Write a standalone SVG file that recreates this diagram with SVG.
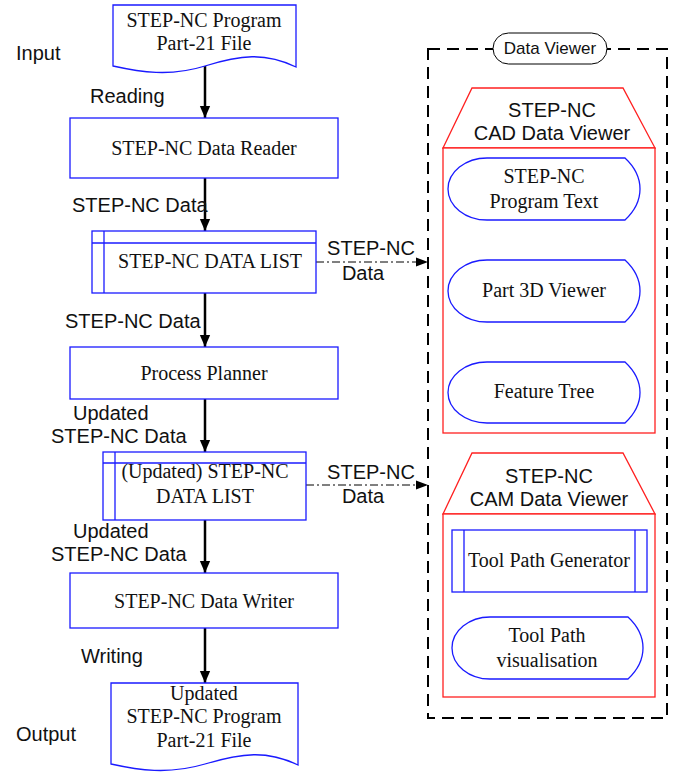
<svg xmlns="http://www.w3.org/2000/svg" width="678" height="773" viewBox="0 0 678 773">
<defs>
<marker id="ah" markerWidth="12" markerHeight="16" refX="14" refY="6" orient="auto" markerUnits="userSpaceOnUse" viewBox="0 0 14 12"><path d="M0,0 L14,6 L0,12 Z" fill="#000"/></marker>
<marker id="ah2" markerWidth="12" markerHeight="10" refX="12" refY="4.5" orient="auto" markerUnits="userSpaceOnUse" viewBox="0 0 12 9"><path d="M0,0 L12,4.5 L0,9 Z" fill="#000"/></marker>
</defs>
<style>
.b{fill:#fff;stroke:#1a1aff;stroke-width:1.3}
.r{fill:#fff;stroke:#ff2020;stroke-width:1.3}
.s{font-family:"Liberation Serif",serif;font-size:20px;fill:#111;text-anchor:middle}
.a{font-family:"Liberation Sans",sans-serif;font-size:20px;fill:#111}
.m{text-anchor:middle}
.arr{stroke:#000;stroke-width:2.5;fill:none;marker-end:url(#ah)}
.dd{stroke:#000;stroke-width:1;fill:none;stroke-dasharray:8 3 2 3;marker-end:url(#ah2)}
</style>
<rect width="678" height="773" fill="#fff"/>
<g id="connectors">
<line class="arr" x1="205" y1="66" x2="205" y2="118"/>
<line class="arr" x1="205" y1="178" x2="205" y2="231"/>
<line class="arr" x1="205" y1="293" x2="205" y2="347"/>
<line class="arr" x1="205" y1="399" x2="205" y2="452"/>
<line class="arr" x1="205" y1="520" x2="205" y2="573"/>
<line class="arr" x1="205" y1="628" x2="205" y2="683"/>
<line class="dd" x1="316" y1="262" x2="428" y2="262"/>
<line class="dd" x1="306" y1="485" x2="428" y2="485"/>
</g>
<g id="labels">
<text class="a" x="16" y="60">Input</text>
<text class="a" x="90" y="103">Reading</text>
<text class="a" x="72" y="212">STEP-NC Data</text>
<text class="a" x="65" y="328">STEP-NC Data</text>
<text class="a" x="73" y="420">Updated</text>
<text class="a" x="51" y="443">STEP-NC Data</text>
<text class="a" x="73" y="538">Updated</text>
<text class="a" x="51" y="561">STEP-NC Data</text>
<text class="a" x="81" y="663">Writing</text>
<text class="a" x="16" y="741">Output</text>
<text class="a m" x="371" y="255">STEP-NC</text>
<text class="a m" x="363" y="280">Data</text>
<text class="a m" x="371" y="479">STEP-NC</text>
<text class="a m" x="363" y="503">Data</text>
</g>
<g id="input-file">
<path class="b" d="M113,5 H296 V67 C265,52 240,55 205,66 C170,77 140,72 113,66 Z"/>
<text class="s" x="204" y="27">STEP-NC Program</text>
<text class="s" x="204" y="50">Part-21 File</text>
</g>
<g id="data-reader">
<rect class="b" x="70" y="118" width="268" height="60"/>
<text class="s" x="204" y="155">STEP-NC Data Reader</text>
</g>
<g id="data-list">
<rect class="b" x="92" y="231" width="224" height="62"/>
<line class="b" x1="104" y1="231" x2="104" y2="293"/>
<line class="b" x1="92" y1="243" x2="316" y2="243"/>
<text class="s" x="210" y="268">STEP-NC DATA LIST</text>
</g>
<g id="process-planner">
<rect class="b" x="70" y="347" width="268" height="52"/>
<text class="s" x="204" y="380">Process Planner</text>
</g>
<g id="updated-data-list">
<rect class="b" x="103" y="452" width="203" height="68"/>
<line class="b" x1="115" y1="452" x2="115" y2="520"/>
<line class="b" x1="103" y1="463" x2="306" y2="463"/>
<text class="s" x="205" y="478">(Updated) STEP-NC</text>
<text class="s" x="205" y="503">DATA LIST</text>
</g>
<g id="data-writer">
<rect class="b" x="70" y="573" width="268" height="55"/>
<text class="s" x="204" y="608">STEP-NC Data Writer</text>
</g>
<g id="output-file">
<path class="b" d="M111,683 H298 V765 C267,750 242,753 205,764 C168,775 138,770 111,764 Z"/>
<text class="s" x="204" y="700">Updated</text>
<text class="s" x="204" y="723">STEP-NC Program</text>
<text class="s" x="204" y="747">Part-21 File</text>
</g>
<g id="data-viewer">
<rect x="428" y="49" width="239" height="669" fill="none" stroke="#000" stroke-width="2" stroke-dasharray="12 7"/>
<rect x="493" y="33" width="114" height="31" rx="15.5" fill="#fff" stroke="#000" stroke-width="1"/>
<text class="a m" x="550" y="54" style="font-size:17px">Data Viewer</text>
</g>
<g id="cad-viewer">
<path class="r" d="M443,148 L472,88 H623 L655,148 Z"/>
<rect class="r" x="443" y="148" width="212" height="285"/>
<text class="a m" x="552" y="117">STEP-NC</text>
<text class="a m" x="552" y="140">CAD Data Viewer</text>
</g>
<g id="program-text">
<path class="b" d="M487,158 H625 Q640,172 640,189 Q640,206 625,220 H487 A39,31 0 0 1 487,158 Z"/>
<text class="s" x="544" y="183">STEP-NC</text>
<text class="s" x="544" y="208">Program Text</text>
</g>
<g id="part-3d-viewer">
<path class="b" d="M487,260 H625 Q640,274 640,291 Q640,308 625,322 H487 A39,31 0 0 1 487,260 Z"/>
<text class="s" x="544" y="297">Part 3D Viewer</text>
</g>
<g id="feature-tree">
<path class="b" d="M487,362 H625 Q640,376 640,392.5 Q640,409 625,423 H487 A39,30.5 0 0 1 487,362 Z"/>
<text class="s" x="544" y="398">Feature Tree</text>
</g>
<g id="cam-viewer">
<path class="r" d="M443,514 L472,453 H623 L655,514 Z"/>
<rect class="r" x="443" y="514" width="212" height="183"/>
<text class="a m" x="549" y="483">STEP-NC</text>
<text class="a m" x="549" y="506">CAM Data Viewer</text>
</g>
<g id="tool-path-generator">
<rect class="b" x="452" y="530" width="195" height="62"/>
<line class="b" x1="464" y1="530" x2="464" y2="592"/>
<line class="b" x1="635" y1="530" x2="635" y2="592"/>
<text class="s" x="549" y="567">Tool Path Generator</text>
</g>
<g id="tool-path-visualisation">
<path class="b" d="M490,617 H628 Q643,631 643,648 Q643,665 628,679 H490 A38,31 0 0 1 490,617 Z"/>
<text class="s" x="547" y="642">Tool Path</text>
<text class="s" x="547" y="667">visualisation</text>
</g>
</svg>
